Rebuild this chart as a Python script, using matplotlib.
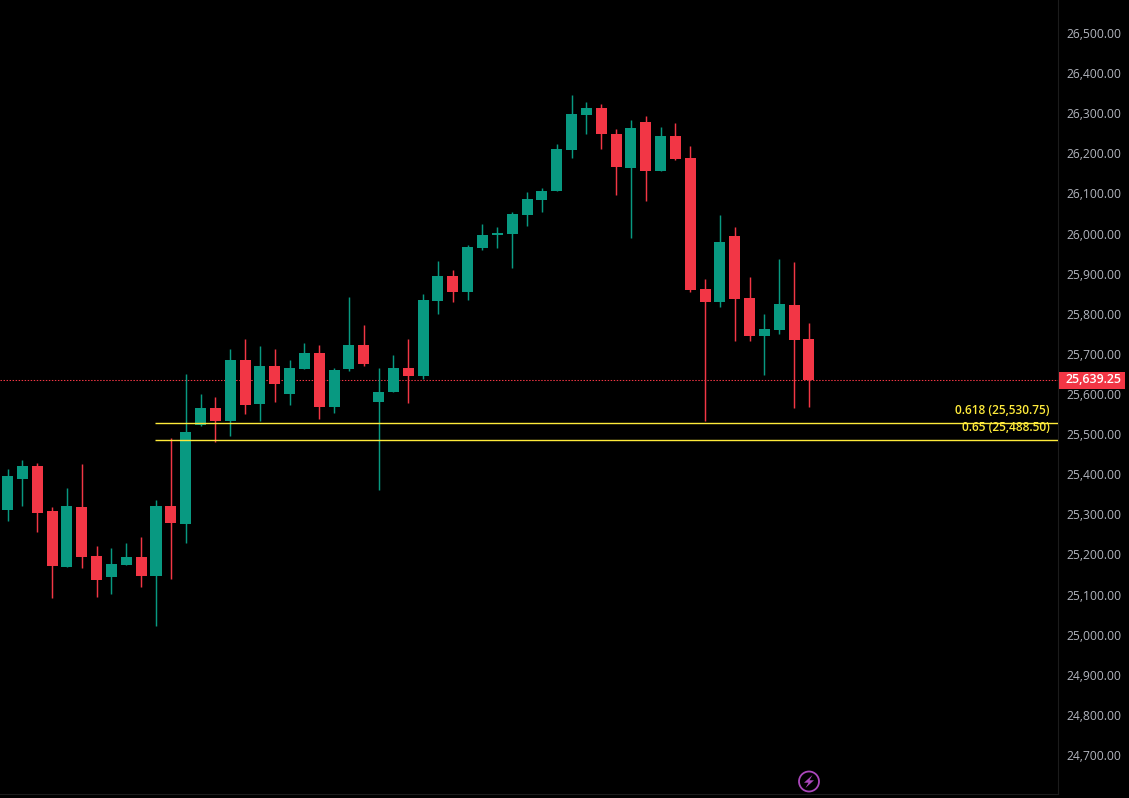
import matplotlib
matplotlib.use("Agg")
import matplotlib.pyplot as plt
from matplotlib.patches import Circle, Polygon, Rectangle
from matplotlib.transforms import IdentityTransform, ScaledTranslation, blended_transform_factory

# OHLC values
opens = [25315, 25392, 25424, 25312, 25172, 25322, 25200, 25148, 25178, 25197, 25150, 25325, 25280, 25526.5, 25569,
         25536.5, 25688.5, 25579, 25674, 25604, 25666, 25706, 25571, 25666, 25726, 25584, 25609, 25669, 25649, 25836,
         25898, 25858, 25968, 26000, 26003, 26050, 26087, 26110, 26212.5, 26300, 26317, 26252, 26168, 26282, 26160,
         26247, 26192, 25866, 25834, 25998, 25843.5, 25749, 25764, 25826, 25741]
highs = [25417, 25439, 25432, 25322, 25369, 25429, 25225, 25220, 25232, 25247, 25340, 25494, 25654, 25604, 25596,
         25716, 25741, 25723, 25716, 25689, 25731, 25726, 25669, 25846, 25776, 25669, 25701, 25741, 25853, 25935,
         25913, 25975, 26028, 26020, 26058, 26107, 26118, 26227, 26350, 26332, 26327, 26265, 26287, 26297, 26270,
         26280, 26222, 25891, 26050, 26020, 25896, 25804, 25941, 25933, 25781]
lows = [25287, 25325, 25260, 25095, 25172, 25170, 25098, 25105, 25178, 25123, 25025, 25143, 25232, 25524, 25484,
        25499, 25554, 25536.5, 25584, 25576, 25666, 25541.5, 25556, 25661, 25673.6, 25364.5, 25609, 25581, 25641, 25803,
        25833, 25838, 25963, 25968, 25918, 26023, 26057.5, 26110, 26192.5, 26252, 26215, 26100, 25993, 26085, 26160,
        26188, 25858, 25536.5, 25821, 25736, 25736, 25652, 25754, 25569, 25572]
closes = [25399, 25424, 25307, 25175, 25325, 25197, 25140, 25180, 25197, 25150, 25325, 25282, 25509, 25569, 25536.5,
          25688.5, 25576, 25674, 25629, 25669, 25706, 25571, 25663.6, 25726, 25678.6, 25609, 25669, 25649, 25838, 25898,
          25858, 25970, 26000, 26005, 26052.5, 26090, 26110, 26215, 26302, 26317, 26252, 26170, 26267, 26160, 26247,
          26190, 25863, 25833.6, 25983, 25841, 25749, 25766, 25829, 25739, 25639.25]

price_ticks = [24700, 24800, 24900, 25000, 25100, 25200, 25300, 25400, 25500, 25600,
               25700, 25800, 25900, 26000, 26100, 26200, 26300, 26400, 26500]
last_price = 25639.25
fib_levels = [0.618, 0.65]
fib_prices = [25530.75, 25488.50]
fib_start_bar = 10

UP = "#089981"
DOWN = "#f23645"
FIB = "#ffeb3b"
GRID = "#1c1c1c"
AXIS_TEXT = "#b2b5be"
FONT = "Open Sans"

W, H = 1129, 798
fig = plt.figure(figsize=(W / 100, H / 100), dpi=100, facecolor="black")
ax = fig.add_axes([0, 4 / H, 1058 / W, 794 / H], facecolor="black")
ax.set_xlim(-0.512, 70.78)
ax.set_ylim(24606.6, 26586)

bars = range(len(opens))
colors = [UP if c >= o else DOWN for o, c in zip(opens, closes)]
ax.axhline(last_price, color=DOWN, lw=0.75, ls=(0, (1.4, 1.5)), zorder=1)
w = ax.vlines(bars, lows, highs, colors=colors, lw=1.05, zorder=2)
w.set_snap(True)
bottoms = [min(o, c) for o, c in zip(opens, closes)]
heights = [abs(c - o) for o, c in zip(opens, closes)]
ax.bar(bars, heights, bottom=bottoms, width=0.742, color=colors, linewidth=0, zorder=3)

for lvl, price in zip(fib_levels, fib_prices):
    ax.hlines(price, fib_start_bar - 0.05, ax.get_xlim()[1], color=FIB, lw=1.0, zorder=4)
    ax.annotate(f"{lvl:g} ({price:,.2f})", xy=(1, price),
                xycoords=blended_transform_factory(ax.transAxes, ax.transData),
                xytext=(-6, 9), textcoords="offset points", ha="right", va="center",
                color=FIB, fontsize=8.6, fontfamily=FONT, fontweight="semibold", zorder=5)

ax.set_xticks([])
ax.yaxis.tick_right()
ax.set_yticks(price_ticks)
ax.set_yticklabels([f"{p:,.2f}" for p in price_ticks], color=AXIS_TEXT, fontsize=8.7, fontfamily=FONT)
ax.tick_params(axis="y", length=0, pad=6.2)
for lab in ax.get_yticklabels():
    lab.set_transform(lab.get_transform() + ScaledTranslation(0, 1.5 / 100, fig.dpi_scale_trans))
for side, sp in ax.spines.items():
    sp.set_visible(side in ("right", "bottom"))
    sp.set_color(GRID)
    sp.set_linewidth(0.8)

# last price tag
tr = blended_transform_factory(IdentityTransform(), ax.transData)
ax.add_patch(Rectangle((1059, 798 - 388.5), 66, 16.5, transform=IdentityTransform(),
                       facecolor=DOWN, edgecolor="none", clip_on=False, zorder=9))
ax.text(1093, last_price, f"{last_price:,.2f}", transform=tr, ha="center", va="center",
        color="white", fontsize=8.9, fontfamily=FONT, fontweight="semibold", clip_on=False, zorder=10)

# lightning badge
purple = "#ab47bc"
fig.add_artist(Circle((809, 798 - 781.5), 10, transform=IdentityTransform(), facecolor="none",
                      edgecolor=purple, linewidth=1.3))
cx, cy = 809, 798 - 781.5
fig.add_artist(Polygon([(cx + 3.5, cy + 6.5), (cx - 5, cy - 1.2), (cx - 0.5, cy - 1.2), (cx - 3.5, cy - 6.5),
                        (cx + 5, cy + 1.2), (cx + 0.5, cy + 1.2)], closed=True,
                       transform=IdentityTransform(), facecolor=purple, edgecolor="none"))

fig.savefig("out.png", dpi=100, facecolor="black")
